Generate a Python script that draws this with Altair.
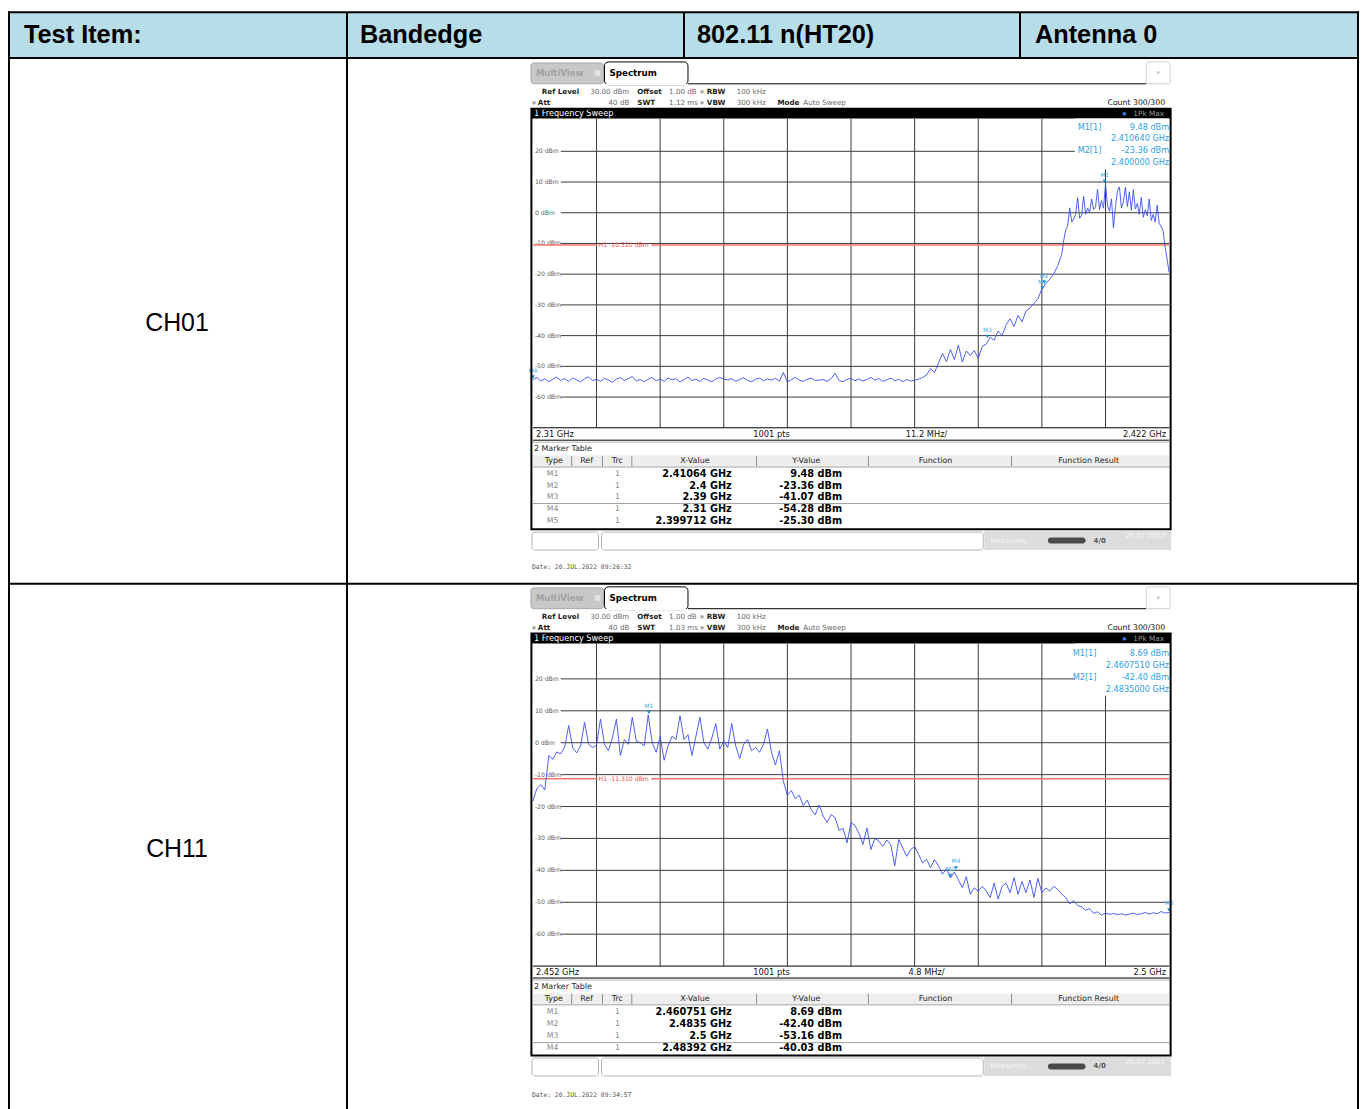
import altair as alt
import pandas as pd

# ---------------------------------------------------------------- data
HEADER_CELLS = ["Test Item:", "Bandedge", "802.11 n(HT20)", "Antenna 0"]
ROW_LABELS = ["CH01", "CH11"]

DBM_GRID = [20, 10, 0, -10, -20, -30, -40, -50, -60]
DBM_TOP = 30
DBM_BOTTOM = -70
SWEEP_POINTS = 1001
TABLE_COLUMNS = ["Type", "Ref", "Trc", "X-Value", "Y-Value", "Function", "Function Result"]

# ---- CH01 (2.31 - 2.422 GHz)
CH01_START = 2.310
CH01_STOP = 2.422
CH01_SWT = "1.12 ms"
CH01_H1 = -10.52
CH01_DATE = "20.JUL.2022  09:26:32"
CH01_FREQ = [
    2.3100, 2.3107, 2.3114, 2.3121, 2.3128, 2.3135, 2.3142, 2.3149, 2.3156, 2.3163,
    2.3170, 2.3177, 2.3184, 2.3191, 2.3198, 2.3205, 2.3212, 2.3219, 2.3226, 2.3233,
    2.3240, 2.3247, 2.3254, 2.3261, 2.3268, 2.3275, 2.3282, 2.3289, 2.3296, 2.3303,
    2.3310, 2.3317, 2.3324, 2.3331, 2.3338, 2.3345, 2.3352, 2.3359, 2.3366, 2.3373,
    2.3380, 2.3387, 2.3394, 2.3401, 2.3408, 2.3415, 2.3422, 2.3429, 2.3436, 2.3443,
    2.3450, 2.3457, 2.3464, 2.3471, 2.3478, 2.3485, 2.3492, 2.3499, 2.3506, 2.3513,
    2.3520, 2.3527, 2.3534, 2.3541, 2.3548, 2.3555, 2.3562, 2.3569, 2.3576, 2.3583,
    2.3590, 2.3597, 2.3604, 2.3611, 2.3618, 2.3625, 2.3632, 2.3639, 2.3646, 2.3653,
    2.3660, 2.3667, 2.3674, 2.3681, 2.3688, 2.3695, 2.3702, 2.3709, 2.3716, 2.3723,
    2.3730, 2.3737, 2.3744, 2.3751, 2.3758, 2.3765, 2.3772, 2.3779, 2.3786, 2.3793,
    2.3800, 2.3807, 2.3814, 2.3821, 2.3828, 2.3835, 2.3842, 2.3849, 2.3856, 2.3863,
    2.3870, 2.3877, 2.3884, 2.3891, 2.3898, 2.3905, 2.3912, 2.3919, 2.3926, 2.3933,
    2.3940, 2.3947, 2.3954, 2.3961, 2.3968, 2.3975, 2.3982, 2.3989, 2.3996, 2.4003,
    2.4010, 2.4017, 2.4024,
    2.40310, 2.40345, 2.40380, 2.40415, 2.40450, 2.40485, 2.40520, 2.40555, 2.40590, 2.40625,
    2.40660, 2.40695, 2.40730, 2.40765, 2.40800, 2.40835, 2.40870, 2.40905, 2.40940, 2.40975,
    2.41010, 2.41045, 2.41080, 2.41115, 2.41150, 2.41185, 2.41220, 2.41255, 2.41290, 2.41325,
    2.41360, 2.41395, 2.41430, 2.41465, 2.41500, 2.41535, 2.41570, 2.41605, 2.41640, 2.41675,
    2.41710, 2.41745, 2.41780, 2.41815, 2.41850, 2.41885, 2.41920, 2.41955, 2.41990, 2.42025,
    2.42060, 2.42095, 2.42130, 2.42165, 2.42200,
]
CH01_DBM = [
    -54.3, -53.6, -54.8, -54.1, -55.0, -54.2, -53.5, -54.6, -54.0, -54.9,
    -53.8, -54.4, -55.1, -54.0, -53.4, -54.7, -54.2, -54.9, -53.9, -54.5,
    -55.2, -54.1, -53.7, -54.6, -54.0, -53.3, -54.8, -54.3, -55.0, -54.2,
    -53.6, -54.7, -54.1, -54.9, -53.8, -54.4, -54.0, -55.1, -54.3, -53.5,
    -54.6, -54.2, -54.9, -53.9, -54.5, -55.0, -54.1, -53.6, -54.2, -54.4,
    -54.0, -54.8, -54.3, -53.7, -54.6, -55.0, -54.2, -53.8, -54.7, -54.1,
    -54.5, -53.9, -54.8, -52.0, -55.1, -54.3, -53.6, -54.5, -54.9, -54.2,
    -53.8, -54.6, -54.5, -54.3, -54.9, -54.0, -52.3, -54.6, -55.0, -54.2,
    -53.9, -54.7, -54.1, -54.8, -54.3, -53.6, -54.5, -54.0, -54.9, -54.4,
    -53.8, -54.7, -54.2, -55.0, -54.3, -54.8, -54.5,
    -54.2, -53.6, -52.8, -50.7, -52.0, -49.0, -45.8, -48.5, -44.5, -47.8,
    -43.1, -48.6, -45.0, -46.5, -44.8, -47.5, -43.5, -42.8, -40.5, -41.5,
    -38.5, -40.0, -36.5, -34.5, -37.0, -33.5, -35.5, -32.0, -31.0, -29.6,
    -28.0, -24.8, -23.0, -21.6, -19.8, -17.2,
    -13.5, -9.0, -5.5, -4.2, 1.6, -3.0, -2.0, -0.5, 4.9, -1.8,
    -0.8, 5.4, -0.5, 1.5, 0.2, 4.5, 1.0, 2.0, 7.6, 1.0,
    4.0, 1.5, 9.48, 2.5, 0.5, 4.5, -4.9, 2.0, 7.0, 8.4,
    1.5, 3.5, 8.3, 2.0, 6.8, 0.8, 7.5, 1.2, 3.0, -0.5,
    5.0, -1.5, 1.0, -1.0, 4.5, -2.5, -0.5, -3.0, 2.5, -3.5,
    -4.5, -6.0, -11.3, -15.2, -19.4,
]
CH01_MARKERS = ["M1", "M2", "M3", "M4", "M5"]
CH01_MARKER_FREQ = [2.41064, 2.4, 2.39, 2.31, 2.399712]
CH01_MARKER_DBM = [9.48, -23.36, -41.07, -54.28, -25.30]
CH01_READOUT_DIGITS = 6

# ---- CH11 (2.452 - 2.5 GHz)
CH11_START = 2.452
CH11_STOP = 2.500
CH11_SWT = "1.03 ms"
CH11_H1 = -11.31
CH11_DATE = "20.JUL.2022  09:34:57"
CH11_FREQ = [
    2.4520, 2.4523, 2.4526, 2.4529, 2.4532, 2.4535, 2.4538, 2.4541, 2.4544, 2.4547,
    2.4550, 2.4553, 2.4556, 2.4559, 2.4562, 2.4565, 2.4568, 2.4571, 2.4574, 2.4577,
    2.4580, 2.4583, 2.4586, 2.4589, 2.4592, 2.4595, 2.4598, 2.4601, 2.4604, 2.4607,
    2.4610, 2.4613, 2.4616, 2.4619, 2.4622, 2.4625, 2.4628, 2.4631, 2.4634, 2.4637,
    2.4640, 2.4643, 2.4646, 2.4649, 2.4652, 2.4655, 2.4658, 2.4661, 2.4664, 2.4667,
    2.4670, 2.4673, 2.4676, 2.4679, 2.4682, 2.4685, 2.4688, 2.4691, 2.4694, 2.4697,
    2.4700, 2.4703, 2.4706, 2.4709, 2.4712, 2.4715, 2.4718, 2.4721, 2.4724, 2.4727,
    2.4730, 2.4733, 2.4736, 2.4739, 2.4742, 2.4745, 2.4748, 2.4751, 2.4754, 2.4757,
    2.4760, 2.4763, 2.4766, 2.4769, 2.4772, 2.4775, 2.4778, 2.4781, 2.4784, 2.4787,
    2.4790, 2.4793, 2.4796, 2.4799, 2.4802, 2.4805, 2.4808, 2.4811, 2.4814, 2.4817,
    2.4820, 2.4823, 2.4826, 2.4829, 2.4832, 2.4835, 2.4838, 2.4841, 2.4844, 2.4847,
    2.4850, 2.4853, 2.4856, 2.4859, 2.4862, 2.4865, 2.4868, 2.4871, 2.4874, 2.4877,
    2.4880, 2.4883, 2.4886, 2.4889, 2.4892, 2.4895, 2.4898, 2.4901, 2.4904, 2.4907,
    2.4910, 2.4913, 2.4916, 2.4919, 2.4922, 2.4925, 2.4928, 2.4931, 2.4934, 2.4937,
    2.4940, 2.4943, 2.4946, 2.4949, 2.4952, 2.4955, 2.4958, 2.4961, 2.4964, 2.4967,
    2.4970, 2.4973, 2.4976, 2.4979, 2.4982, 2.4985, 2.4988, 2.4991, 2.4994, 2.4997,
    2.5000,
]
CH11_DBM = [
    -18.4, -14.3, -13.2, -14.8, -4.0, -5.2, -2.9, -3.5, -1.4, 5.4,
    -1.6, -3.2, -1.0, 6.4, -0.5, -1.5, -0.8, 7.4, -0.5, -2.5,
    1.5, 7.4, -4.0, 1.0, -0.5, 8.0, 0.5, 0.0, -1.0, 8.69,
    0.0, -3.0, 2.0, -5.5, -1.0, 2.0, 1.0, 8.5, 1.0, 2.5,
    -4.0, 2.0, 8.0, 0.0, -2.0, 1.5, 6.0, -2.0, 0.5, -1.5,
    6.0, -1.0, -5.0, -0.5, 1.0, -2.5, -1.5, -3.0, -0.5, 4.3,
    -3.0, -7.0, -2.5, -12.2, -16.4, -15.0, -17.5, -16.5, -19.7, -18.0,
    -21.0, -22.6, -19.5, -23.0, -25.0, -22.5, -23.5, -27.5, -26.8, -31.4,
    -25.0, -26.0, -28.4, -31.9, -26.7, -33.5, -30.0, -30.8, -32.5, -30.5,
    -32.0, -38.6, -30.3, -33.0, -35.6, -33.5, -32.6, -35.0, -37.7, -36.5,
    -39.2, -36.6, -38.5, -41.2, -39.5, -42.4, -40.5, -43.0, -45.4, -42.0,
    -47.5, -45.5, -46.5, -45.0, -46.5, -48.5, -44.0, -49.0, -45.0, -44.0,
    -47.0, -42.3, -47.5, -43.5, -47.0, -43.0, -48.5, -42.5, -47.0, -45.5,
    -46.5, -45.0, -46.0, -47.5, -48.5, -50.5, -49.5, -51.0, -51.5, -52.5,
    -52.0, -53.5, -53.0, -54.0, -53.4, -53.8, -53.5, -53.9, -53.6, -54.0,
    -53.7, -53.4, -53.9, -53.6, -53.2, -53.7, -53.3, -53.6, -52.9, -53.4,
    -53.16,
]
CH11_MARKERS = ["M1", "M2", "M3", "M4"]
CH11_MARKER_FREQ = [2.460751, 2.4835, 2.5, 2.48392]
CH11_MARKER_DBM = [8.69, -42.40, -53.16, -40.03]
CH11_READOUT_DIGITS = 7

# ---------------------------------------------------------------- style
INSTR = "DejaVu Sans"
MONO = "DejaVu Sans Mono"
ARIAL = "Liberation Sans, Arial, Helvetica, sans-serif"
GRID = "#3a3a3a"
TRACE = "#3b4ff0"
MK = "#1b8fd8"
MK_TXT = "#49aee8"
H1C = "#f87272"
ONE = pd.DataFrame({"k": [0]})

PX0, PX1 = 532, 1172  # plot left / right (image px)


def X(v):
    return v - 4


def Y(v):
    return v - 4


def rect(x1, y1, x2, y2, fill=None, stroke=None, sw=1.0, r=0):
    kw = {}
    if fill is None:
        kw["fill"] = "white"
        kw["fillOpacity"] = 0
    else:
        kw["fill"] = fill
    if stroke is not None:
        kw["stroke"] = stroke
        kw["strokeWidth"] = sw
    if r:
        kw["cornerRadius"] = r
    return alt.Chart(ONE).mark_rect(**kw).encode(
        x=alt.value(X(x1)), x2=alt.value(X(x2)), y=alt.value(Y(y1)), y2=alt.value(Y(y2)))


def rule(x1, y1, x2, y2, color="black", sw=1.0):
    return alt.Chart(ONE).mark_rule(color=color, strokeWidth=sw).encode(
        x=alt.value(X(x1)), x2=alt.value(X(x2)), y=alt.value(Y(y1)), y2=alt.value(Y(y2)))


def label(x, y, s, size=8.0, color="#222222", weight="normal", align="left",
          font=INSTR, baseline="middle"):
    return alt.Chart(ONE).mark_text(
        text=s, fontSize=size, color=color, fontWeight=weight, align=align,
        baseline=baseline, font=font).encode(x=alt.value(X(x)), y=alt.value(Y(y)))


def panel(d, L):
    out = []
    xs = alt.Scale(domain=[d["start"], d["stop"]], range=[X(PX0), X(PX1)], nice=False, zero=False)
    ys = alt.Scale(domain=[DBM_BOTTOM, DBM_TOP], range=[Y(L["plot_bot"]), Y(L["plot_top"])],
                   nice=False, zero=False)
    tt, tb = L["tab_top"], L["tab_bot"]

    # --- tabs
    out += [
        rect(530, tt + 1, 603, tb, fill="#c8c8c8", stroke="#9c9c9c", sw=0.8, r=3),
        label(535, tt + 11.5, "MultiView", 8.6, "#a2a2a2", "bold"),
        label(597, tt + 11.5, "▦", 7, "#ececec", align="center"),
        rect(604, tt, 688, tb + 1, fill="white", stroke="black", sw=1, r=4),
        rule(605, tb + 1, 687, tb + 1, "white", 1.6),
        label(609, tt + 11, "Spectrum", 8.8, "black", "bold"),
        rule(688, tb, 1149, tb, "black", 1),
        rect(1149, tt, 1173, tb, fill="white", stroke="#c4c4c4", sw=0.8, r=2),
        label(1161, tt + 11, "▾", 7, "#c4c4c4", align="center"),
    ]
    # --- info rows
    i1, i2 = L["info1"], L["info2"]
    B, G = "#1e1e1e", "#6a6a6a"
    fs = 7.2
    out += [
        label(541, i1, "Ref Level", fs, B, "bold"),
        label(629, i1, "30.00 dBm", fs, G, align="right"),
        label(637, i1, "Offset", fs, B, "bold"),
        label(669, i1, "1.00 dB", fs, G),
        label(702, i1, "●", 4.5, "#a8a8a8", align="center"),
        label(707, i1, "RBW", fs, B, "bold"),
        label(737, i1, "100 kHz", fs, G),
        label(533, i2, "●", 4.5, "#a8a8a8", align="center"),
        label(537, i2, "Att", fs, B, "bold"),
        label(629, i2, "40 dB", fs, G, align="right"),
        label(637, i2, "SWT", fs, B, "bold"),
        label(669, i2, d["swt"], fs, G),
        label(702, i2, "●", 4.5, "#a8a8a8", align="center"),
        label(707, i2, "VBW", fs, B, "bold"),
        label(737, i2, "300 kHz", fs, G),
        label(778, i2, "Mode", fs, B, "bold"),
        label(804, i2, "Auto Sweep", fs, G),
        label(1168, i2, "Count 300/300", 7.8, "#111111", align="right"),
    ]
    # --- black title bar
    bm = (L["bar_top"] + L["bar_bot"]) / 2
    out += [
        rect(531, L["bar_top"], 1173, L["bar_bot"], fill="black"),
        label(533, bm, "1 Frequency Sweep", 8.2, "white"),
        label(1127, bm, "●", 4.5, "#2f7ff0", align="center"),
        label(1167, bm, "1Pk Max", 7.4, "#9a9a9a", align="right"),
    ]
    # --- grid
    step = (d["stop"] - d["start"]) / 10
    vf = [round(d["start"] + step * k, 6) for k in range(1, 10)]
    out.append(alt.Chart(pd.DataFrame({"f": vf})).mark_rule(color=GRID, strokeWidth=1).encode(
        x=alt.X("f:Q", scale=xs, axis=None),
        y=alt.value(Y(L["bar_bot"])), y2=alt.value(Y(L["plot_bot"]))))
    out.append(alt.Chart(pd.DataFrame({"v": DBM_GRID})).mark_rule(color=GRID, strokeWidth=1).encode(
        y=alt.Y("v:Q", scale=ys, axis=None), x=alt.value(X(560)), x2=alt.value(X(PX1))))
    out.append(alt.Chart(pd.DataFrame({"v": [DBM_BOTTOM]})).mark_rule(color="black", strokeWidth=1).encode(
        y=alt.Y("v:Q", scale=ys, axis=None), x=alt.value(X(PX0)), x2=alt.value(X(PX1))))
    # readout background
    out.append(rect(1077, L["bar_bot"], PX1, L["plot_top"] + 49, fill="white"))
    # y tick labels
    out.append(alt.Chart(pd.DataFrame({"v": DBM_GRID, "t": [f"{v} dBm" for v in DBM_GRID]}))
               .mark_text(align="left", baseline="middle", fontSize=6.2, color="#5a5a5a", font=INSTR)
               .encode(x=alt.value(X(534)), y=alt.Y("v:Q", scale=ys, axis=None), text="t:N"))
    # --- H1 limit line
    hdf = pd.DataFrame({"v": [d["h1"]]})
    for a, b in [(PX0, 597), (651, PX1)]:
        out.append(alt.Chart(hdf).mark_rule(color=H1C, strokeWidth=1.6).encode(
            y=alt.Y("v:Q", scale=ys, axis=None), x=alt.value(X(a)), x2=alt.value(X(b))))
    out.append(alt.Chart(hdf).mark_text(
        text=f"H1  {d['h1']:.3f} dBm", align="left", baseline="middle", fontSize=6.2,
        color="#f24a4a", font=INSTR).encode(
        x=alt.value(X(598)), y=alt.Y("v:Q", scale=ys, axis=None)))
    # --- trace
    out.append(alt.Chart(pd.DataFrame({"f": d["freq"], "v": d["dbm"]})).mark_line(
        color=TRACE, strokeWidth=0.9).encode(
        x=alt.X("f:Q", scale=xs, axis=None), y=alt.Y("v:Q", scale=ys, axis=None)))
    # --- markers
    mdf = pd.DataFrame({"m": d["mk"], "f": d["mkf"], "v": d["mkv"]})
    out.append(alt.Chart(mdf).mark_point(shape="triangle-down", filled=True, size=16, color=MK,
                                         opacity=1, yOffset=-2.5).encode(
        x=alt.X("f:Q", scale=xs, axis=None), y=alt.Y("v:Q", scale=ys, axis=None)))
    out.append(alt.Chart(mdf).mark_text(dy=-9, fontSize=6, color=MK_TXT, font=INSTR).encode(
        x=alt.X("f:Q", scale=xs, axis=None), y=alt.Y("v:Q", scale=ys, axis=None), text="m:N"))
    # --- readout (M1, M2)
    rx = L["readout_x"]
    for k in range(2):
        ry = L["plot_top"] + 7 + 24 * k
        out += [
            label(rx, ry, f"{d['mk'][k]}[1]", 8.2, "#2fa0e4"),
            label(PX1, ry, f"{d['mkv'][k]:.2f} dBm", 8.2, "#2fa0e4", align="right"),
            label(PX1, ry + 12, f"{d['mkf'][k]:.{d['digits']}f} GHz", 8.2, "#2fa0e4", align="right"),
        ]
    # --- x label bar
    ly = L["lab_y"]
    out += [
        rule(PX0, L["lab_line"], PX1, L["lab_line"], "black", 1),
        label(535, ly, f"{d['start']:g} GHz", 8.3, "#111111"),
        label(772, ly, f"{SWEEP_POINTS} pts", 8.3, "#111111", align="center"),
        label(928, ly, f"{(d['stop'] - d['start']) * 100:.1f} MHz/", 8.3, "#111111", align="center"),
        label(1169, ly, f"{d['stop']:g} GHz", 8.3, "#111111", align="right"),
    ]
    # --- marker table
    hy = L["mt_head"]
    out += [
        rule(531, L["mt_top"], 1173, L["mt_top"], "#b4b4b4", 1),
        label(533, L["mt_title"], "2 Marker Table", 8.0, "#1e1e1e"),
        rect(532, hy - 5.5, PX1, hy + 5.5, fill="#eeeeee"),
        rule(532, hy + 6, PX1, hy + 6, "#a0a0a0", 1),
        rule(532, L["row_sep"], PX1, L["row_sep"], "#a0a0a0", 1),
    ]
    for s, cx in zip(TABLE_COLUMNS, [553, 586, 617, 695, 807, 937, 1091]):
        out.append(label(cx, hy, s, 8.0, "#1e1e1e", align="center"))
    for sx in [571, 602, 631.5, 757, 869.5, 1013.5]:
        out.append(rule(sx, hy - 5, sx, hy + 5, "#8c8c8c", 1))
    tdf = pd.DataFrame({
        "m": d["mk"],
        "xv": [f"{v} GHz" for v in d["mkf"]],
        "yv": [f"{v:.2f} dBm" for v in d["mkv"]],
        "trc": ["1"] * len(d["mk"]),
    })
    rs = alt.Scale(type="point", domain=d["mk"], range=[Y(L["row_first"]), Y(L["row_last"])], padding=0)
    out += [
        alt.Chart(tdf).mark_text(align="left", baseline="middle", fontSize=7.8, color="#8a8a8a",
                                 font=INSTR).encode(
            x=alt.value(X(546)), y=alt.Y("m:N", scale=rs, axis=None), text="m:N"),
        alt.Chart(tdf).mark_text(align="center", baseline="middle", fontSize=7.8, color="#8a8a8a",
                                 font=INSTR).encode(
            x=alt.value(X(617)), y=alt.Y("m:N", scale=rs, axis=None), text="trc:N"),
        alt.Chart(tdf).mark_text(align="right", baseline="middle", fontSize=9.8, color="black",
                                 fontWeight="bold", font=INSTR).encode(
            x=alt.value(X(732)), y=alt.Y("m:N", scale=rs, axis=None), text="xv:N"),
        alt.Chart(tdf).mark_text(align="right", baseline="middle", fontSize=9.8, color="black",
                                 fontWeight="bold", font=INSTR).encode(
            x=alt.value(X(843)), y=alt.Y("m:N", scale=rs, axis=None), text="yv:N"),
    ]
    # --- frame of the display
    out.append(rect(530.5, L["bar_top"], 1173.5, L["frame_bot"], stroke="black", sw=2))
    # --- status bar
    st, sb = L["status_top"], L["status_bot"]
    sm = (st + sb) / 2
    out += [
        rect(531, st + 1, 598, sb, fill="white", stroke="#b4b4b4", sw=1, r=3),
        rect(601, st + 1, 985, sb, fill="white", stroke="#b4b4b4", sw=1, r=3),
        rect(986, st, 1174, sb, fill="#dcdcdc"),
        label(992, sm, "Measuring...", 7, "#f4f4f4"),
        rect(1050, sm - 3, 1088, sm + 3, fill="#4a4a4a", r=3),
        label(1096, sm, "4/0", 7, "#555555", "bold"),
        label(1168, st + 5, "20.07.2022", 7, "#f6f6f6", align="right"),
    ]
    # --- date stamp
    out.append(label(531, L["date_y"], "Date: " + d["date"], 6.4, "#555555", font=MONO))
    return out


layers = []

# ---------------------------------------------------------------- table
layers += [
    rect(5, 5, 1362, 51, fill="#b7dde8"),
    rule(5, 4, 5, 1115, "black", 2),
    rule(1362, 4, 1362, 1115, "black", 2),
    rule(4, 5, 1363, 5, "black", 2),
    rule(4, 51, 1363, 51, "black", 2),
    rule(4, 580, 1363, 580, "black", 2),
    rule(345, 5, 345, 1115, "black", 2),
    rule(684, 5, 684, 51, "black", 2),
    rule(1022, 5, 1022, 51, "black", 2),
]
for s, hx in zip(HEADER_CELLS, [20, 358, 697, 1037]):
    layers.append(label(hx, 36, s, 25.5, "black", "bold", font=ARIAL, baseline="alphabetic"))
for s, ry in zip(ROW_LABELS, [326, 855]):
    layers.append(label(174, ry, s, 25, "black", align="center", font=ARIAL, baseline="alphabetic"))

CH01 = dict(start=CH01_START, stop=CH01_STOP, swt=CH01_SWT, h1=CH01_H1, date=CH01_DATE,
            freq=CH01_FREQ, dbm=CH01_DBM, mk=CH01_MARKERS, mkf=CH01_MARKER_FREQ,
            mkv=CH01_MARKER_DBM, digits=CH01_READOUT_DIGITS)
CH11 = dict(start=CH11_START, stop=CH11_STOP, swt=CH11_SWT, h1=CH11_H1, date=CH11_DATE,
            freq=CH11_FREQ, dbm=CH11_DBM, mk=CH11_MARKERS, mkf=CH11_MARKER_FREQ,
            mkv=CH11_MARKER_DBM, digits=CH11_READOUT_DIGITS)

L1 = dict(tab_top=55, tab_bot=77, info1=85.5, info2=96.5, bar_top=102, bar_bot=112,
          plot_top=114, plot_bot=423, lab_y=430, lab_line=435.5, mt_top=437.5, mt_title=444.5,
          mt_head=456.5, row_first=469.5, row_last=516.7, row_sep=499.2, frame_bot=525,
          status_top=527, status_bot=546, date_y=563, readout_x=1080)
L2 = dict(tab_top=583, tab_bot=605, info1=613.5, info2=624.5, bar_top=630, bar_bot=640,
          plot_top=643.5, plot_bot=964.5, lab_y=971, lab_line=976.5, mt_top=978.5, mt_title=985.5,
          mt_head=997.5, row_first=1011, row_last=1047, row_sep=1041.5, frame_bot=1054.5,
          status_top=1056, status_bot=1075, date_y=1094, readout_x=1075)

layers += panel(CH01, L1)
layers += panel(CH11, L2)

chart = (
    alt.layer(*layers)
    .resolve_scale(x="independent", y="independent")
    .properties(width=1360, height=1101, padding=0, background="white",
                autosize=alt.AutoSizeParams(type="none"))
    .configure_view(stroke=None)
)

chart.save("out.html", embed_options={"renderer": "svg", "actions": False})
